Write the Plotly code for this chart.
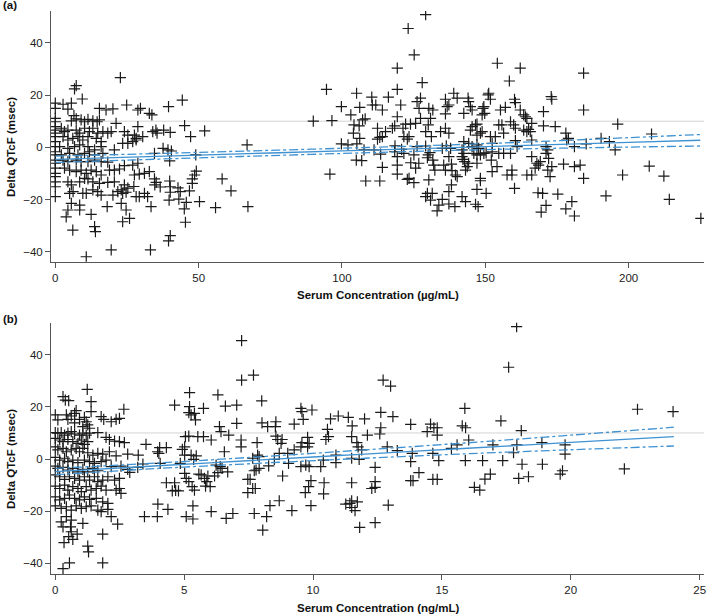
import plotly.graph_objects as go
from plotly.subplots import make_subplots

# ---------------- Panel (a): serum concentration (ug/mL) vs Delta QTcF ----------------
a_pts = [
    (0, 16.9), (0, 14.9), (0, 11.1), (0, 9.8), (0, 7.9), (0, 6.6), (0, 5.4), (0, 4.1), (0, 2.2), (0, 0.3),
    (0, -1.7), (0, -2.9), (0, -4.9), (0, -6.1), (0, -8.0), (0, -10.0), (0, -11.2), (0, -13.2), (0, -15.1), (0, -18.9),
    (7.3, 23.6), (6.7, 22.4), (22.7, 26.7), (9.4, 18.5),
    (2.7, 16.5), (5.6, 16.9), (4.4, 14.6), (6.5, 12.1),
    (15.4, 14.9), (17.7, 14.3), (20.1, 14.7), (24.9, 16.2), (28.8, 14.3), (29.7, 14.9), (32.8, 13.0), (33.7, 12.4),
    (5.6, 10.1), (7.3, 10.9), (9.0, 10.5), (10.2, 9.8), (11.4, 10.7), (13.1, 10.1), (14.6, 9.8), (15.4, 10.5),
    (21.2, 9.2), (28.8, 7.9), (34.0, 6.0), (35.1, 6.6),
    (2.1, 7.3), (3.2, 6.0), (4.4, 6.6), (7.3, 6.6), (8.5, 5.4), (10.2, 7.3), (11.9, 6.0), (13.1, 7.3), (14.8, 5.4),
    (16.6, 6.0), (18.3, 5.4), (19.5, 6.0),
    (24.1, 6.0), (25.3, 4.7), (27.6, 4.7), (28.2, 3.4), (30.5, 4.1),
    (2.7, 4.1), (4.4, 2.8), (6.1, 3.4), (7.9, 4.1), (9.6, 2.8), (11.4, 4.1), (14.3, 3.4), (16.0, 2.2),
    (23.5, 1.5), (25.3, 1.5), (27.0, 2.2), (28.2, 2.8),
    (1.5, 0.3), (4.4, -0.4), (6.7, 0.3), (8.5, 0.9), (11.4, 0.3), (13.7, -1.0), (16.0, 0.3), (20.6, -1.0),
    (2.1, -2.9), (5.0, -2.3), (7.9, -2.9), (10.2, -2.3), (11.9, -1.7), (13.7, -2.9), (16.6, -2.3), (34.6, -2.3),
    (2.7, -4.9), (4.4, -5.5), (7.3, -4.9), (9.0, -5.5), (11.4, -5.5), (13.7, -4.9), (16.0, -5.5), (18.3, -5.7),
    (24.1, -7.0), (27.0, -6.8), (28.8, -6.1),
    (3.2, -8.0), (5.0, -8.7), (7.3, -9.3), (9.0, -8.7), (10.8, -10.0), (12.5, -8.7), (14.3, -9.3), (16.0, -10.6),
    (18.9, -8.7), (20.6, -8.7), (22.4, -8.3),
    (27.6, -10.6), (29.3, -10.3), (31.1, -10.0), (32.8, -9.3), (34.6, -12.1), (35.2, -13.4),
    (4.4, -13.2), (5.6, -14.4), (8.5, -13.2), (10.2, -11.9), (11.4, -12.1), (13.1, -13.2), (15.4, -13.8),
    (18.3, -13.4), (20.6, -13.2), (24.1, -14.4), (25.3, -15.6), (27.4, -15.0),
    (5.0, -17.6), (6.2, -17.0), (9.6, -17.6), (10.8, -17.6), (13.1, -16.3), (14.8, -17.0), (16.0, -18.3),
    (20.1, -18.3), (21.8, -17.0), (23.0, -16.3), (23.5, -17.6), (24.7, -17.2), (28.2, -18.9), (29.3, -18.9),
    (31.1, -17.6), (32.2, -18.9), (33.4, -22.7), (18.1, -22.7),
    (5.6, -21.5), (8.5, -22.1), (4.4, -24.0), (8.5, -24.0), (23.0, -21.5), (24.7, -24.0), (25.9, -27.2),
    (3.8, -26.6), (12.5, -25.7), (23.5, -28.5), (6.1, -31.7), (13.7, -30.4), (14.0, -32.3),
    (19.5, -39.3), (33.2, -39.3), (10.8, -41.9),
    (44.3, 18.1), (39.5, 15.6), (35.5, 5.4), (37.8, 6.6), (40.1, 5.7), (45.1, 8.3), (47.2, 4.1), (52.1, 6.3),
    (66.9, 0.9), (37.6, -0.4), (39.3, -1.0), (40.5, -1.4), (39.9, -5.2), (49.0, -2.9),
    (49.2, -9.1), (48.6, -10.6), (47.8, -12.1), (47.8, -13.8), (46.8, -16.7),
    (34.7, -14.4), (36.6, -15.2), (39.9, -12.9), (40.1, -15.1), (40.1, -17.2), (42.8, -15.5), (43.6, -17.0),
    (39.7, -20.2), (43.1, -19.8), (45.7, -21.1), (45.0, -23.6), (50.3, -20.8), (55.9, -23.1), (58.2, -12.1),
    (61.3, -16.7), (67.2, -22.7), (45.4, -28.7), (40.1, -33.8), (39.5, -35.8),
    (90.0, 10.0), (94.6, 22.2), (96.5, 10.2), (95.8, -10.3), (99.8, 15.6), (99.8, 1.3), (102.1, 0.9),
    (103.1, 12.4), (105.1, 20.7), (106.2, 15.3), (104.2, 8.6), (106.0, 8.2), (104.0, 5.4), (106.2, 3.4),
    (107.2, 10.5), (108.1, 10.9), (105.2, 1.3), (105.0, -4.9), (106.9, -5.1), (107.7, -1.0), (108.3, -12.9),
    (110.4, 19.2), (110.6, 16.2), (111.8, 16.2), (114.1, 14.3), (112.4, 7.3), (113.2, 3.8), (114.1, 4.1),
    (112.4, 3.1), (111.2, -1.0), (113.5, -2.6), (114.1, -7.7), (113.2, -12.9),
    (116.2, 19.2), (115.2, 6.0), (118.4, -1.7), (119.3, -3.6), (118.5, 0.6),
    (117.6, 7.3), (118.4, 8.2), (119.3, 22.2), (119.3, 11.7), (120.5, 16.2), (121.3, 7.3), (121.6, 4.1),
    (119.3, 30.3), (119.3, -6.8), (119.3, -10.3), (120.8, -0.8), (121.6, -2.3),
    (123.1, 45.5), (122.2, 8.9), (123.9, 8.9), (123.4, 4.1), (122.8, 3.1), (124.0, -5.9), (123.4, -11.9),
    (125.1, -13.5), (125.1, -2.9), (122.8, -12.3),
    (125.2, 35.4), (125.7, 9.2), (126.9, 14.9), (127.4, 11.1), (126.2, 17.5), (127.4, 18.8), (126.2, 0.3),
    (126.8, -6.1), (125.7, -8.0),
    (128.0, 24.8), (129.2, 50.8), (129.2, 6.0), (130.1, 8.6), (130.9, 11.1), (131.2, 4.1), (130.3, 14.9),
    (131.7, 14.3), (129.2, 0.5), (130.1, -2.9), (129.8, -4.0), (130.7, -2.0),
    (130.3, -12.5), (129.8, -17.6), (130.9, -20.2), (131.5, -17.6), (129.2, -18.9),
    (132.0, -6.8), (132.4, -8.7), (131.7, -4.9), (133.2, -24.3), (133.8, -22.1),
    (134.4, 6.0), (136.1, 7.3), (137.3, 5.4), (135.0, -0.4), (136.4, 0.6), (137.9, -0.4), (137.3, -3.6),
    (135.5, -6.8), (136.1, -8.7), (138.2, -6.4), (138.4, -8.9),
    (136.1, 18.4), (137.3, 16.2), (139.0, 20.7), (140.2, 18.8), (136.1, 12.8), (136.7, 15.6),
    (137.3, -17.0), (135.0, -19.9), (137.3, -21.7), (139.4, -22.7), (138.2, -14.4), (140.2, -11.2), (139.6, -10.6),
    (142.5, 13.0), (144.2, 17.5), (144.8, 15.6), (145.4, 14.3), (144.0, 18.8),
    (142.5, 2.2), (141.9, -1.0), (142.5, -2.3), (142.8, -5.5), (143.7, -7.4), (143.1, -8.7), (141.9, -3.6),
    (142.2, -4.6), (141.9, -18.9), (143.1, -20.8),
    (144.8, 6.6), (145.4, 7.9), (146.6, 8.6), (147.1, 8.9), (147.1, 4.7), (148.3, 5.4), (148.9, 6.0),
    (144.2, 1.5), (145.4, 0.3), (147.1, 0.9), (147.7, -0.4), (146.0, -2.3), (147.1, -2.9), (148.3, -2.9),
    (149.5, -2.3), (144.2, -6.1), (147.1, -6.1),
    (148.3, -11.9), (148.3, -12.8), (147.1, -16.1), (146.6, -21.8), (147.5, -22.7), (150.3, -17.6),
    (149.5, 15.6), (149.8, 13.0), (148.9, 12.4), (149.2, 14.9), (151.2, 20.7), (151.8, 18.4), (151.0, 20.1),
    (150.3, -2.1), (152.4, -1.7), (151.8, 4.1), (153.5, 4.1), (152.4, 1.5),
    (152.1, -4.9), (152.4, -9.3), (154.1, -7.4), (154.2, 32.2), (154.7, 8.6), (155.8, 8.6),
    (155.3, 14.3), (157.0, 15.3), (154.7, -2.3), (156.4, -2.3), (156.4, 5.4),
    (157.6, -10.6), (159.3, -10.6), (159.3, -8.7), (160.2, -15.7), (158.4, 25.4),
    (158.8, 9.8), (159.9, 8.6), (160.5, 7.3), (158.8, -2.3), (160.5, 2.6), (161.1, 0.3),
    (160.2, 18.4), (160.5, 17.1), (162.2, 30.3),
    (162.2, 14.3), (163.4, 12.4), (164.0, 11.7), (164.5, 11.1), (163.4, 6.6), (164.5, 6.0), (165.7, 6.0),
    (165.1, 6.9), (166.2, 9.2), (166.2, 2.8), (164.5, -10.6), (166.2, -10.6), (166.2, -3.6),
    (167.4, -8.0), (168.6, -6.8), (168.0, -6.1), (169.2, -5.5),
    (168.4, -17.4), (170.0, -17.6), (169.5, -24.8), (171.2, -22.2), (170.3, 13.7), (170.3, 8.2),
    (171.2, 0.3), (171.8, -1.0), (171.2, -2.3), (172.1, -4.2), (171.8, -8.7), (173.2, -7.4), (172.6, -11.2),
    (173.0, 19.4), (173.2, 18.4), (174.4, 7.9), (175.3, -17.9), (177.3, -6.4),
    (178.1, 5.4), (178.4, 2.8), (179.0, 3.4), (178.1, -23.6), (180.2, -20.8), (181.1, -26.3),
    (181.1, 0.3), (181.1, -7.4), (183.1, -6.8), (184.3, 28.4), (184.3, 14.3), (185.2, 1.3), (184.3, -11.9),
    (190.4, 3.4), (192.1, -18.6), (193.3, 2.2), (195.3, -1.0), (196.2, 8.9), (197.9, -10.6),
    (207.2, -7.2), (208.0, 5.1), (212.3, -11.0), (214.2, -19.9), (225.2, -27.2),
]
a_conc = [p[0] for p in a_pts]
a_dqtcf = [p[1] for p in a_pts]

# regression line and 90% CI
a_fit_x = [0, 50, 100, 150, 200, 225]
a_fit_mid = [-4.6, -2.98, -1.36, 0.27, 1.89, 2.7]
a_fit_up = [-3.4, -1.93, -0.36, 1.42, 3.69, 4.9]
a_fit_lo = [-5.8, -4.03, -2.36, -0.88, 0.09, 0.5]

# ---------------- Panel (b): serum concentration (ng/mL) vs Delta QTcF ----------------
b_pts = [
    (1.24, 26.7), (0.30, 23.9), (0.39, 22.6), (0.52, 22.4), (1.39, 22.0), (2.66, 19.1),
    (0.81, 18.6), (0.75, 17.5), (1.39, 18.2),
    (0, 16.9), (0.10, 15.0), (0.43, 16.9), (0.62, 16.5), (0.49, 15.2),
    (1.13, 16.0), (1.20, 14.3), (1.26, 13.1),
    (1.78, 16.3), (1.88, 15.2), (2.17, 14.3), (2.36, 15.2), (2.49, 15.6),
    (0.75, 13.9), (0.94, 15.2), (1.33, 11.8), (1.07, 12.4),
    (0, 10.1), (0.10, 9.9), (0.23, 10.1), (0.36, 9.2), (0.49, 9.9), (0.62, 10.5), (0.75, 9.6), (0.94, 9.2),
    (1.07, 9.9), (1.20, 9.2), (1.33, 9.9), (1.65, 10.1),
    (1.97, 8.3), (2.10, 7.5), (2.30, 6.9), (2.49, 6.7), (2.68, 6.3), (3.52, 5.6), (3.97, 2.8),
    (0, 7.9), (0.17, 7.3), (0.30, 6.7), (0.49, 7.5), (0.68, 6.7), (0.88, 6.0), (1.01, 7.3), (1.13, 5.6), (1.26, 6.7),
    (0, 4.7), (0.10, 3.5), (0.30, 4.1), (0.43, 2.8), (0.62, 3.5), (0.81, 4.1), (0.94, 2.8), (1.07, 4.1),
    (1.26, 2.4), (1.46, 1.5), (1.65, 2.2), (1.84, 1.9), (2.10, 2.8), (2.36, 1.2), (2.81, 1.9),
    (0, 0.6), (0.17, -0.4), (0.36, 0.3), (0.49, -1.0), (0.68, -0.4), (0.88, -1.4), (1.13, -0.4), (1.33, -1.0),
    (1.52, -1.7), (1.78, -1.0), (1.97, -0.4),
    (2.17, -2.9), (2.55, -2.7), (2.81, -4.0), (3.20, -3.2),
    (0, -2.7), (0.10, -3.6), (0.30, -3.2), (0.49, -4.2), (0.68, -3.6), (0.88, -4.9), (1.07, -4.0), (1.26, -4.9),
    (1.46, -3.6), (1.65, -4.5),
    (0, -6.1), (0.17, -6.8), (0.36, -7.8), (0.55, -6.8), (0.75, -7.4), (0.94, -8.1), (1.13, -6.8), (1.33, -8.1),
    (1.52, -6.8), (1.65, -8.7), (1.84, -8.1), (2.04, -6.8), (2.30, -8.1), (2.49, -7.4),
    (0, -10.4), (0.17, -11.3), (0.36, -10.0), (0.49, -11.9), (0.68, -10.6), (0.88, -11.3), (1.01, -12.5),
    (1.20, -10.6), (1.39, -11.9), (1.59, -11.3), (1.78, -10.4), (1.97, -11.9), (2.36, -11.9), (2.49, -11.3),
    (2.55, -13.2),
    (0, -14.5), (0.17, -15.7), (0.36, -15.1), (0.55, -13.8), (0.75, -15.1), (0.94, -15.7), (1.13, -14.5),
    (1.33, -15.5), (1.59, -15.1), (1.84, -16.4), (2.04, -17.0),
    (0, -18.0), (0.23, -18.9), (0.43, -18.3), (0.62, -19.6), (0.81, -18.0), (1.01, -18.9), (1.20, -18.3),
    (1.39, -18.0), (1.65, -19.6), (1.78, -20.2), (2.04, -19.3),
    (3.46, -22.1), (2.17, -22.1), (2.42, -25.0),
    (0.23, -24.1), (0.43, -22.1), (0.62, -23.4), (0.30, -26.0), (1.07, -24.7),
    (0.59, -26.0), (0.62, -27.9), (0.52, -29.8), (0.85, -28.8), (0.68, -30.8),
    (0.34, -32.1), (1.84, -28.8), (1.26, -33.4), (1.29, -35.6), (0.55, -39.8), (1.84, -39.8), (0.30, -42.0),
    (2.89, -5.1), (3.22, 1.5), (3.40, -1.9),
    (4.05, 4.4), (4.31, 4.4), (4.02, 2.2), (4.07, -1.7),
    (4.31, -9.1), (4.54, -12.2), (4.67, -12.0), (4.78, -12.2), (4.63, -9.1),
    (3.98, -17.3), (4.37, -19.3), (3.96, -22.1),
    (4.63, 20.7), (4.85, -1.7), (4.93, 3.7), (5.02, 4.7), (5.02, 1.5), (5.05, 8.6), (5.18, 8.8),
    (5.02, -5.5), (5.08, -7.4), (5.18, -8.7), (5.31, -10.6), (5.40, -11.9),
    (5.21, 20.1), (5.18, 17.8), (5.27, 16.9), (5.40, 17.5), (5.44, 15.0), (5.21, 25.5),
    (5.34, -18.0), (5.08, -22.1), (5.34, -23.0),
    (5.27, 1.5), (5.47, 1.2), (5.37, -0.1),
    (5.53, 8.6), (5.75, 8.6), (5.75, 19.4),
    (5.57, -5.8), (5.66, -6.1), (5.79, -7.4),
    (5.92, -6.5), (5.88, -8.7), (6.01, -10.6), (5.83, -10.4),
    (6.05, 7.3), (6.37, 12.4), (6.43, 10.5), (6.05, -20.2), (6.31, 24.6),
    (6.18, -6.5), (6.31, -5.2), (6.47, -3.6), (6.24, -2.3), (6.40, -2.9),
    (6.60, 20.3), (6.73, 9.2), (6.56, 2.8), (6.69, -4.9), (6.63, -22.8),
    (7.04, 20.7), (7.04, 13.7), (6.89, -20.9),
    (7.23, 45.4), (7.23, 30.3), (7.69, 32.2), (8.01, 22.3),
    (7.21, 7.3), (7.21, 4.7),
    (7.66, 0.3), (7.85, 1.5), (7.91, 0.9), (7.72, -4.5), (7.79, -4.2), (7.91, -3.6),
    (7.47, -7.8), (7.56, -7.8), (7.47, -12.9), (7.66, -11.3), (7.76, -11.3),
    (7.72, -20.9), (8.05, -27.3), (8.20, -22.1), (8.33, -17.9),
    (7.83, 6.3), (8.02, 13.9), (8.24, 12.4), (8.54, 12.4), (8.56, 14.3),
    (8.56, 8.8), (8.63, 7.5), (8.80, 7.5), (8.76, 6.0),
    (8.28, -2.6), (8.50, -0.1), (8.69, 2.2), (8.82, -6.5),
    (9.02, 2.2), (9.05, -1.7), (9.27, 3.5), (9.27, 13.4), (9.53, 4.7), (9.57, 6.3),
    (8.69, -16.0), (9.18, -19.8),
    (9.53, -2.9), (9.53, 19.4), (9.57, 18.2), (9.62, 15.2), (9.79, 8.3), (9.85, 6.0), (9.79, 4.7),
    (9.72, -2.3), (9.85, -2.9), (9.92, -8.3), (9.83, -10.6), (9.70, -12.9),
    (9.96, 18.8), (9.92, -17.9),
    (10.30, -2.9), (10.43, -9.1), (10.41, -13.4),
    (10.40, -0.4), (10.50, 7.5), (10.60, 8.6), (10.56, 11.4),
    (10.68, 15.4), (10.98, 16.5), (11.37, 16.0),
    (10.89, 1.5), (10.89, -1.4),
    (11.27, -17.3), (11.43, -17.0), (11.50, -18.6), (11.63, -19.8), (11.72, -16.4), (11.50, -16.0),
    (11.52, 12.7), (11.50, 8.6), (11.50, 0.3), (11.50, -9.1),
    (11.70, 6.3), (11.75, 4.7), (11.89, 3.5), (11.79, -0.1), (11.81, -26.2),
    (12.00, 15.4), (12.11, 9.2),
    (12.28, -11.3), (12.41, -10.9), (12.41, -8.7), (12.41, -3.2), (12.41, -24.4),
    (12.59, 9.6), (12.63, 12.0), (12.63, 17.9),
    (12.72, 30.3), (13.01, 28.0),
    (12.88, 4.7), (12.92, -17.7), (13.10, 16.3), (13.27, 3.2),
    (13.79, 13.3), (13.79, -1.0), (13.85, 2.2), (13.79, -8.3), (13.88, -8.3), (14.11, -5.2),
    (14.43, 10.5), (14.56, 13.4), (14.69, 12.0), (14.82, 12.0), (14.82, 9.2),
    (14.65, 2.2), (14.88, -0.6), (14.65, -7.8), (14.82, -7.8),
    (15.79, 12.7), (15.92, 12.0), (15.89, 19.4), (16.04, 7.3),
    (15.91, -0.6), (15.37, 4.1), (15.59, 5.4),
    (16.58, -0.6), (16.26, -10.9), (16.47, -11.9), (16.67, -7.7), (16.88, -5.8), (16.98, 5.4), (17.29, 14.6),
    (17.36, -0.6), (17.59, 35.2), (17.90, 50.8), (17.78, 2.4), (17.91, 5.4), (18.08, 10.9), (18.11, -2.0),
    (17.98, -7.4), (18.36, -6.8), (18.88, 6.3), (18.90, -2.0), (19.59, -5.8), (19.68, -4.5), (19.78, 5.4),
    (19.78, 1.9), (22.08, -3.8), (22.59, 19.1), (23.97, 18.2),
]
b_conc = [p[0] for p in b_pts]
b_dqtcf = [p[1] for p in b_pts]

b_fit_x = [0, 4, 8, 12, 16, 20, 24]
b_fit_mid = [-4.8, -2.57, -0.34, 1.9, 4.13, 6.36, 8.6]
b_fit_up = [-3.6, -1.52, 0.91, 3.5, 6.23, 9.16, 12.2]
b_fit_lo = [-6.0, -3.62, -1.59, 0.3, 2.03, 3.56, 5.0]

y_ticks = [-40, -20, 0, 20, 40]
a_x_ticks = [0, 50, 100, 150, 200]
b_x_ticks = [0, 5, 10, 15, 20, 25]
ref_level = 10

BLUE = "#3f92d2"
FONT = "Arial, Liberation Sans, sans-serif"

fig = make_subplots(rows=2, cols=1, vertical_spacing=0.1)

panels = [
    (1, a_conc, a_dqtcf, a_fit_x, a_fit_mid, a_fit_up, a_fit_lo),
    (2, b_conc, b_dqtcf, b_fit_x, b_fit_mid, b_fit_up, b_fit_lo),
]
for row, xs, ys, fx, fm, fu, fl in panels:
    fig.add_trace(go.Scatter(
        x=xs, y=ys, mode="markers", showlegend=False,
        marker=dict(symbol="cross-thin", size=8, color="#1a1a1a",
                    line=dict(color="#1a1a1a", width=1.2)),
    ), row=row, col=1)
    for yy, dash in ((fu, "dashdot"), (fl, "dashdot"), (fm, "solid")):
        fig.add_trace(go.Scatter(
            x=fx, y=yy, mode="lines", showlegend=False,
            line=dict(color=BLUE, width=1.3, dash=dash, shape="spline"),
        ), row=row, col=1)

# reference line at 10 msec
for xd, yr in (("x domain", "y"), ("x2 domain", "y2")):
    fig.add_shape(type="line", xref=xd, yref=yr, x0=0, x1=1, y0=ref_level, y1=ref_level,
                  line=dict(color="#d4d4d4", width=1), layer="below")

axis_common = dict(showline=True, linecolor="#555", linewidth=1, ticks="outside",
                   ticklen=5, tickcolor="#555", showgrid=False, zeroline=False,
                   tickfont=dict(family=FONT, size=11.5, color="#222"))

fig.update_xaxes(axis_common)
fig.update_yaxes(axis_common)
fig.update_xaxes(range=[-1.5, 226.3], tickvals=a_x_ticks, row=1, col=1)
fig.update_xaxes(range=[-0.166, 25.17], tickvals=b_x_ticks, row=2, col=1)
fig.update_yaxes(range=[-43.8, 52.2], tickvals=y_ticks, domain=[0.5547, 1.0], row=1, col=1)
fig.update_yaxes(range=[-44.1, 52.3], tickvals=y_ticks, domain=[0.0, 0.4464], row=2, col=1)

title_font = dict(family=FONT, size=11.5, color="#111")
annos = [
    dict(text="<b>Delta QTcF (msec)</b>", x=-0.0611, y=0.7584, textangle=-90, xanchor="center"),
    dict(text="<b>Delta QTcF (msec)</b>", x=-0.0611, y=0.2043, textangle=-90, xanchor="center"),
    dict(text="<b>Serum Concentration (µg/mL)</b>", x=0.5, y=0.4956, xanchor="center"),
    dict(text="<b>Serum Concentration (ng/mL)</b>", x=0.5, y=-0.0604, xanchor="center"),
    dict(text="<b>(a)</b>", x=-0.0770, y=1.0115, xanchor="left"),
    dict(text="<b>(b)</b>", x=-0.0770, y=0.4529, xanchor="left"),
]
for an in annos:
    fig.add_annotation(xref="paper", yref="paper", showarrow=False,
                       yanchor="middle", font=title_font, **an)

fig.update_layout(
    width=709, height=616,
    margin=dict(l=51, r=3, t=11, b=42),
    plot_bgcolor="white", paper_bgcolor="white",
    font=dict(family=FONT),
)

fig.write_html("out.html", config={"displayModeBar": False},
               post_script="document.body.style.margin='0';document.body.style.overflow='hidden';")
